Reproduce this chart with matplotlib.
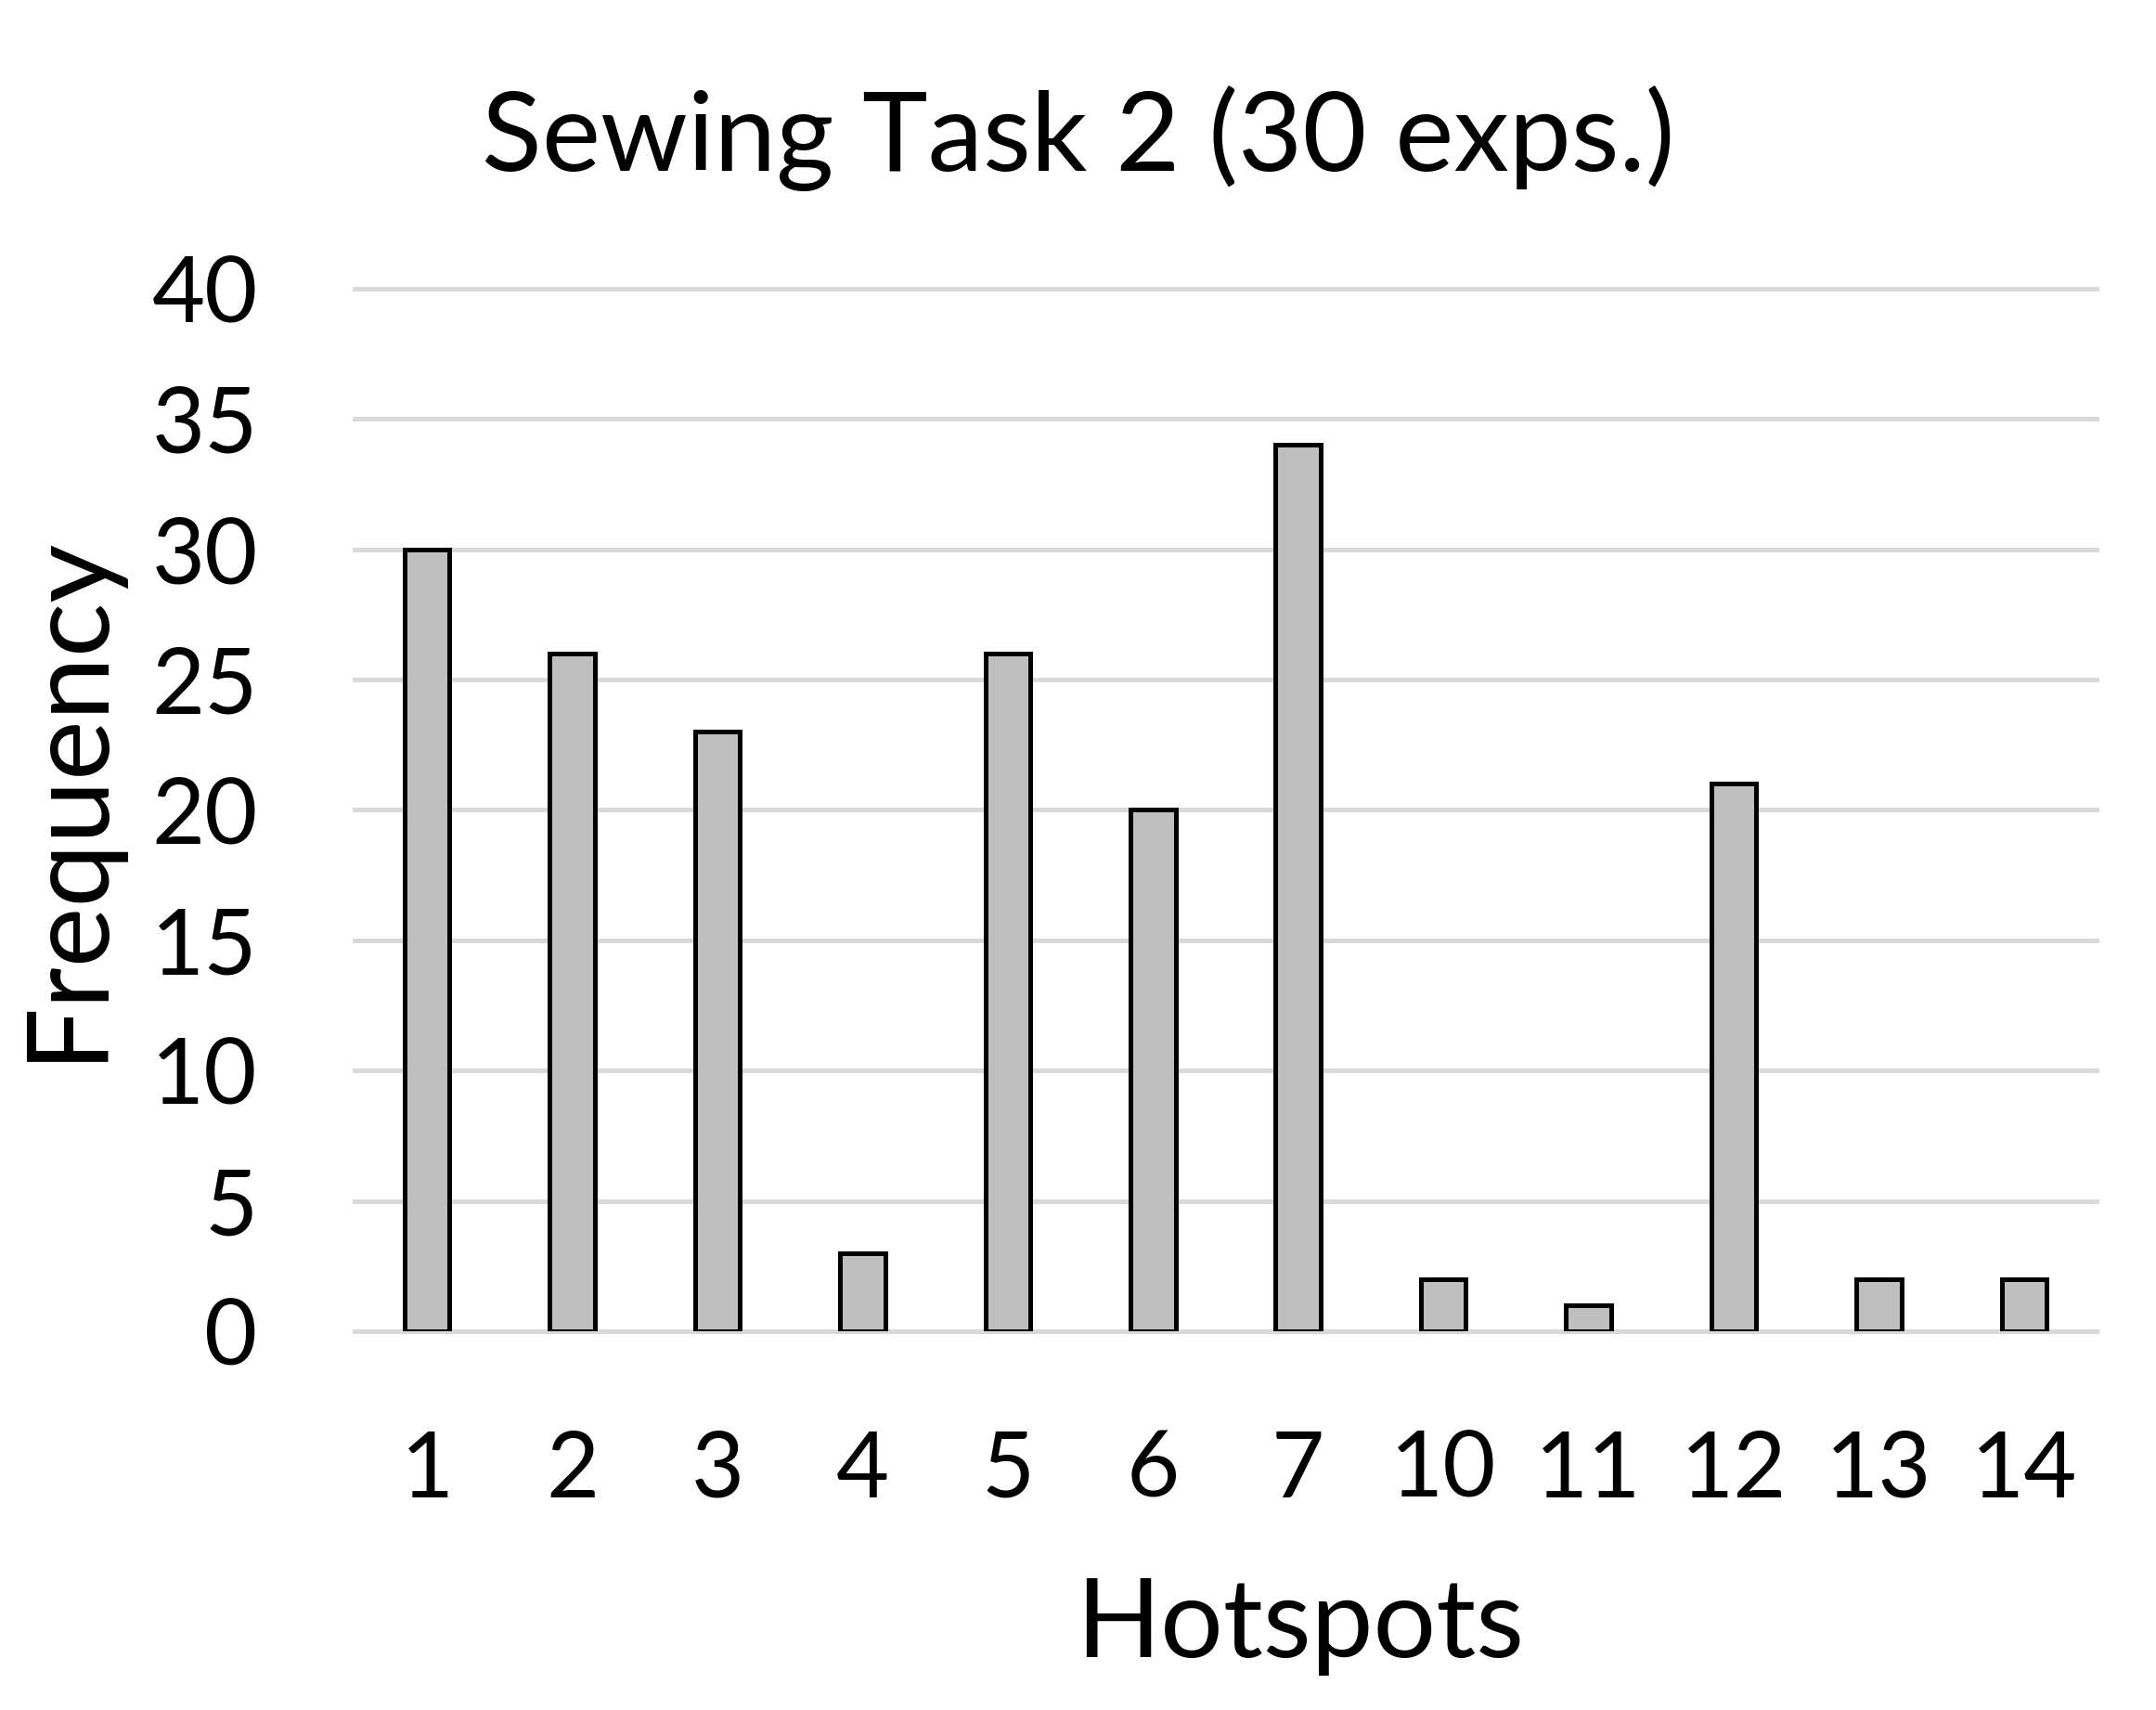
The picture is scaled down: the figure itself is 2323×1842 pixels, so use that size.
import matplotlib
matplotlib.use("Agg")
import matplotlib.pyplot as plt

# ── data ──────────────────────────────────────────────
hotspots = ["1", "2", "3", "4", "5", "6", "7", "10", "11", "12", "13", "14"]
frequency = [30, 26, 23, 3, 26, 20, 34, 2, 1, 21, 2, 2]
y_ticks = [0, 5, 10, 15, 20, 25, 30, 35, 40]

plt.rcParams["font.family"] = ["Lato", "DejaVu Sans"]

fig = plt.figure(figsize=(23.23, 18.42), dpi=100)
ax = fig.add_axes([0.1644, 0.2215, 0.9725 - 0.1644, 0.8312 - 0.2215])

x = range(len(hotspots))
ax.bar(x, frequency, width=0.31, color="#bfbfbf", edgecolor="black",
       linewidth=3.6, zorder=3)

ax.set_xlim(-0.5, len(hotspots) - 0.5)
ax.set_ylim(0, 40)
ax.set_yticks(y_ticks)
ax.set_xticks(list(x))
ax.set_xticklabels(hotspots)

for y in y_ticks:
    ax.axhline(y, color="#d9d9d9", lw=3.6, zorder=1, clip_on=False)

for s in ax.spines.values():
    s.set_visible(False)
ax.tick_params(length=0, labelsize=71)
ax.tick_params(axis="y", pad=75)
ax.tick_params(axis="x", pad=76)

fig.text(0.5, 0.90, "Sewing Task 2 (30 exps.)", ha="center", va="baseline",
         fontsize=86)
fig.text(0.603, 0.031, "Hotspots", ha="center", va="baseline", fontsize=86)
fig.text(0.031, 0.534, "Frequency", ha="center", va="center", rotation=90,
         fontsize=88)

fig.savefig("out.png", dpi=100)
